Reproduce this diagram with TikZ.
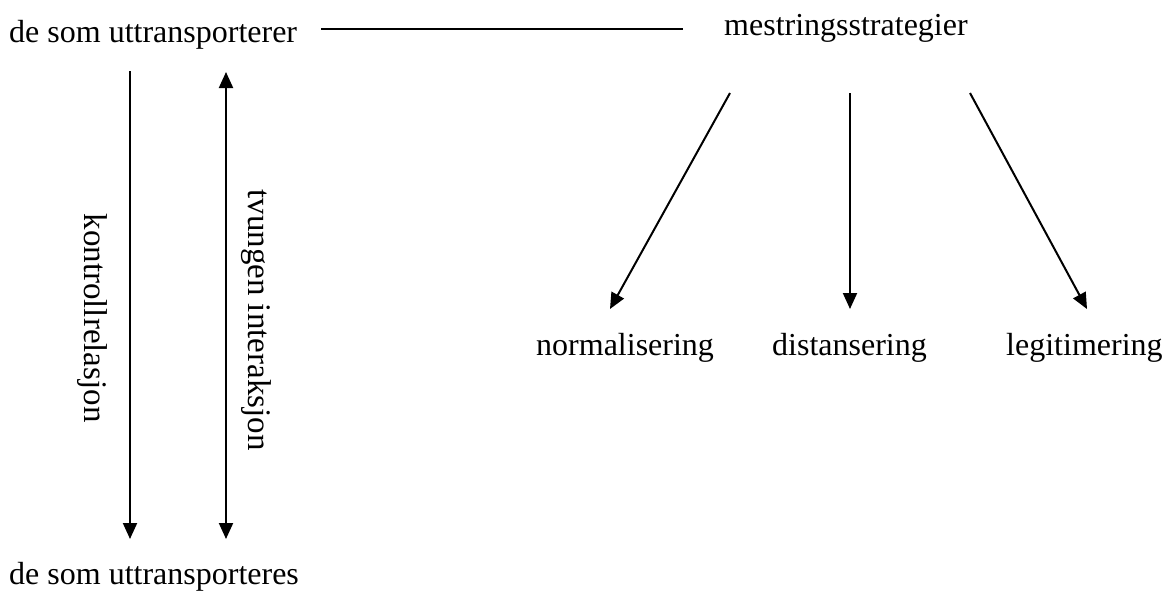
\documentclass[tikz,border=0pt]{standalone}
\usepackage{fontspec}
\setmainfont{Liberation Serif}
\usetikzlibrary{arrows.meta}
\begin{document}
\begin{tikzpicture}[x=1pt,y=-1pt,
  lbl/.style={inner sep=0pt, font=\fontsize{32}{38}\selectfont},
  vlbl/.style={inner sep=0pt, font=\fontsize{33}{39}\selectfont, rotate=-90},
  con/.style={line width=2pt},
  arr/.style={con, -{Triangle[length=16pt,width=14pt]}},
  darr/.style={con, {Triangle[length=16pt,width=14pt]}-{Triangle[length=16pt,width=14pt]}}]
\useasboundingbox (0,0) rectangle (1176,597);
\node[lbl, anchor=base west] (top) at (9,42) {de som uttransporterer};
\node[lbl, anchor=base west] (ms) at (724,35) {mestringsstrategier};
\node[lbl, anchor=base west] (bot) at (9,584) {de som uttransporteres};
\node[lbl, anchor=base west] (norm) at (536,355) {normalisering};
\node[lbl, anchor=base west] (dist) at (772,355) {distansering};
\node[lbl, anchor=base west] (legit) at (1006,355) {legitimering};
\node[vlbl] (kr) at (92,318) {kontrollrelasjon};
\node[vlbl] (ti) at (256,320) {tvungen interaksjon};
% connector end points
\coordinate (hl) at (321,29);
\coordinate (hr) at (683,29);
\coordinate (kt) at (130,71);
\coordinate (kb) at (130,539);
\coordinate (tt) at (226,72);
\coordinate (tb) at (226,539);
\coordinate (s1) at (730,93);
\coordinate (s2) at (850,93);
\coordinate (s3) at (970,93);
\coordinate (e1) at (610,309);
\coordinate (e2) at (850,309);
\coordinate (e3) at (1087,309);
\draw[con] (hl) -- (hr);
\draw[arr] (kt) -- (kb);
\draw[darr] (tt) -- (tb);
\draw[arr] (s1) -- (e1);
\draw[arr] (s2) -- (e2);
\draw[arr] (s3) -- (e3);
\end{tikzpicture}
\end{document}
